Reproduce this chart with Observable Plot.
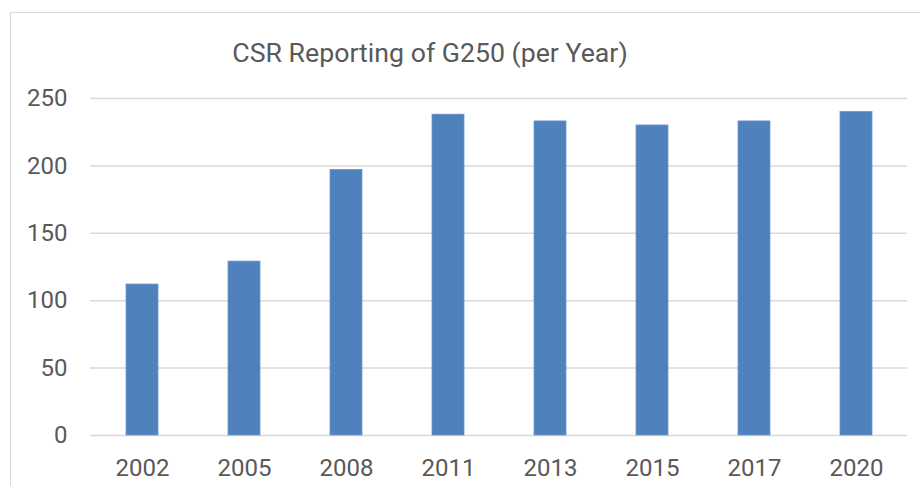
<!DOCTYPE html>
<html>
<head>
<meta charset="utf-8">
<script src="https://cdn.jsdelivr.net/npm/d3@7"></script>
<script src="https://cdn.jsdelivr.net/npm/@observablehq/plot@0.6"></script>
<style>
  html, body { margin: 0; padding: 0; background: #fff; overflow: hidden; width: 920px; height: 486px; }
  #wrap { position: relative; width: 920px; height: 486px; }
  #frame { position: absolute; left: 10px; top: 12px; width: 1000px; height: 1000px; border: 1.5px solid #d9d9d9; box-sizing: border-box; }
  #title { position: absolute; left: 0; width: 860px; top: 35px; text-align: center; font-family: Roboto, sans-serif; font-size: 26.7px; color: #595959; line-height: 36px; }
  #chart { position: absolute; left: 0; top: 0; }
</style>
</head>
<body>
<div id="wrap">
  <div id="frame"></div>
  <div id="chart"></div>
  <div id="title">CSR Reporting of G250 (per Year)</div>
</div>
<script>
const years = ["2002", "2005", "2008", "2011", "2013", "2015", "2017", "2020"];
const reports = [112, 129, 197, 238, 233, 230, 233, 240];
const yTicks = [0, 50, 100, 150, 200, 250];

const data = years.map((y, i) => ({year: y, value: reports[i]}));

const chart = Plot.plot({
  width: 920,
  height: 486,
  marginTop: 98,
  marginBottom: 51,
  marginLeft: 90,
  marginRight: 13,
  style: {fontFamily: "Roboto, sans-serif", fontSize: "24px", color: "#595959", background: "transparent"},
  x: {domain: years, paddingInner: 0.687, paddingOuter: 0.3435, label: null, tickSize: 0, tickPadding: 23},
  y: {domain: [0, 250], label: null},
  marks: [
    Plot.ruleY(yTicks, {stroke: "#d9d9d9", strokeWidth: 1.5}),
    Plot.barY(data, {x: "year", y: "value", fill: "#4f81bd", stroke: "#6f98cc", strokeWidth: 0.8}),
    Plot.axisY(yTicks, {tickSize: 0, tickPadding: 23, label: null, fill: "#595959"}),
    Plot.axisX({tickSize: 0, tickPadding: 23, label: null, fill: "#595959"})
  ]
});
document.getElementById("chart").appendChild(chart);
</script>
</body>
</html>
